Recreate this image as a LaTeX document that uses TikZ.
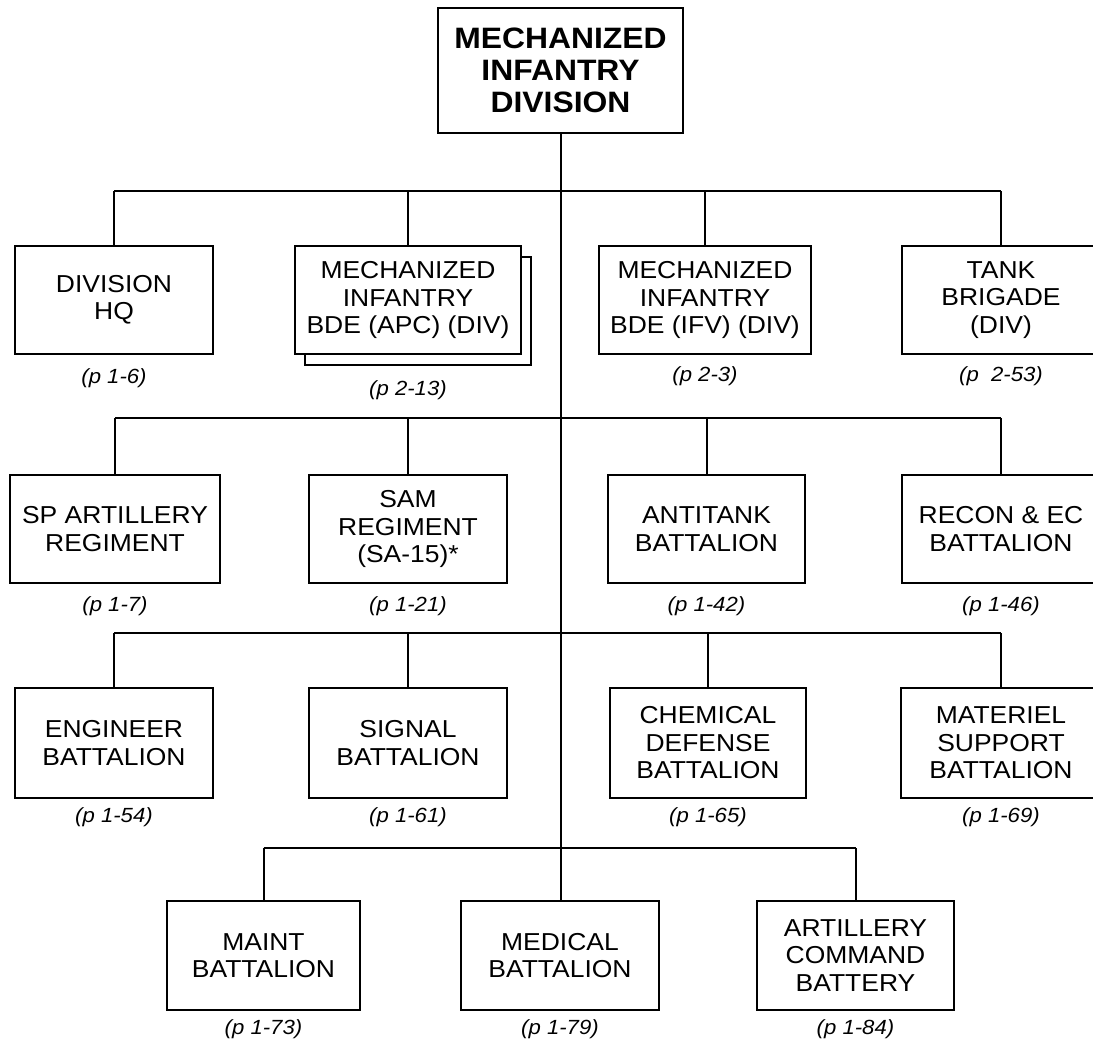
\documentclass[tikz,border=0pt]{standalone}
\usepackage{fontspec}
\setmainfont{Liberation Sans}[FakeStretch=1.08]
\usetikzlibrary{positioning,shadows}

\tikzset{
  unit/.style={draw, line width=2.4pt, fill=white, align=center, inner sep=2pt,
    minimum width=198pt, minimum height=108pt,
    font=\fontsize{24.5}{27.5}\selectfont},
  page/.style={font=\fontsize{20.5}{22}\selectfont\itshape},
  link/.style={line width=2pt},
}

\begin{document}
\begin{tikzpicture}[x=1pt,y=-1pt]
  \useasboundingbox (0,0) rectangle (1093,1044);

  % division
  \node[unit, minimum width=245pt, minimum height=125pt,
        font=\fontsize{29.5}{32}\selectfont\bfseries] (div) at (560.5,70.5)
        {MECHANIZED\\INFANTRY\\DIVISION};

  % first row
  \node[unit] (hq) at (114,300) {DIVISION\\HQ};
  \node[unit, minimum width=226pt, copy shadow={shadow xshift=10pt, shadow yshift=-11pt}]
        (apc) at (408,300) {MECHANIZED\\INFANTRY\\BDE (APC) (DIV)};
  \node[unit, minimum width=212pt] (ifv) at (705,300) {MECHANIZED\\INFANTRY\\BDE (IFV) (DIV)};
  \node[unit] (tank) at (1001,300) {TANK\\BRIGADE\\(DIV)};

  % second row
  \node[unit, minimum width=210pt] (spart) at (115,529) {SP ARTILLERY\\REGIMENT};
  \node[unit] (sam) at (408,529) {SAM\\REGIMENT\\(SA-15)*};
  \node[unit, minimum width=197pt] (at) at (706.5,529) {ANTITANK\\BATTALION};
  \node[unit] (recon) at (1001,529) {RECON \& EC\\BATTALION};

  % third row
  \node[unit, minimum height=110pt] (eng) at (114,743) {ENGINEER\\BATTALION};
  \node[unit, minimum height=110pt] (sig) at (408,743) {SIGNAL\\BATTALION};
  \node[unit, minimum height=110pt, minimum width=196pt] (chem) at (708,743) {CHEMICAL\\DEFENSE\\BATTALION};
  \node[unit, minimum height=110pt, minimum width=200pt] (mat) at (1001,743) {MATERIEL\\SUPPORT\\BATTALION};

  % fourth row
  \node[unit, minimum height=109pt, minimum width=193pt] (maint) at (263.5,955.5) {MAINT\\BATTALION};
  \node[unit, minimum height=109pt] (med) at (560,955.5) {MEDICAL\\BATTALION};
  \node[unit, minimum height=109pt, minimum width=197pt] (acb) at (855.5,955.5) {ARTILLERY\\COMMAND\\BATTERY};

  % page references
  \node[page] (hq-p) at (114,378) {(p 1-6)};
  \node[page] (apc-p) at (408,390) {(p 2-13)};
  \node[page] (ifv-p) at (705,376) {(p 2-3)};
  \node[page] (tank-p) at (1001,376) {(p \ 2-53)};
  \node[page] (spart-p) at (115,606) {(p 1-7)};
  \node[page] (sam-p) at (408,606) {(p 1-21)};
  \node[page] (at-p) at (706.5,606) {(p 1-42)};
  \node[page] (recon-p) at (1001,606) {(p 1-46)};
  \node[page] (eng-p) at (114,817) {(p 1-54)};
  \node[page] (sig-p) at (408,817) {(p 1-61)};
  \node[page] (chem-p) at (708,817) {(p 1-65)};
  \node[page] (mat-p) at (1001,817) {(p 1-69)};
  \node[page] (maint-p) at (263.5,1029) {(p 1-73)};
  \node[page] (med-p) at (560,1029) {(p 1-79)};
  \node[page] (acb-p) at (855.5,1029) {(p 1-84)};

  % buses
  \coordinate (bus1) at (0,191);
  \coordinate (bus2) at (0,418);
  \coordinate (bus3) at (0,633);
  \coordinate (bus4) at (0,848);

  \draw[link] (div.south) -- (div.south |- med.north);
  \draw[link] (hq.north |- bus1) -- (tank.north |- bus1);
  \draw[link] (spart.north |- bus2) -- (recon.north |- bus2);
  \draw[link] (eng.north |- bus3) -- (mat.north |- bus3);
  \draw[link] (maint.north |- bus4) -- (acb.north |- bus4);
  \foreach \n in {hq,apc,ifv,tank} \draw[link] (\n.north) -- (\n.north |- bus1);
  \foreach \n in {spart,sam,at,recon} \draw[link] (\n.north) -- (\n.north |- bus2);
  \foreach \n in {eng,sig,chem,mat} \draw[link] (\n.north) -- (\n.north |- bus3);
  \foreach \n in {maint,acb} \draw[link] (\n.north) -- (\n.north |- bus4);
\end{tikzpicture}
\end{document}
